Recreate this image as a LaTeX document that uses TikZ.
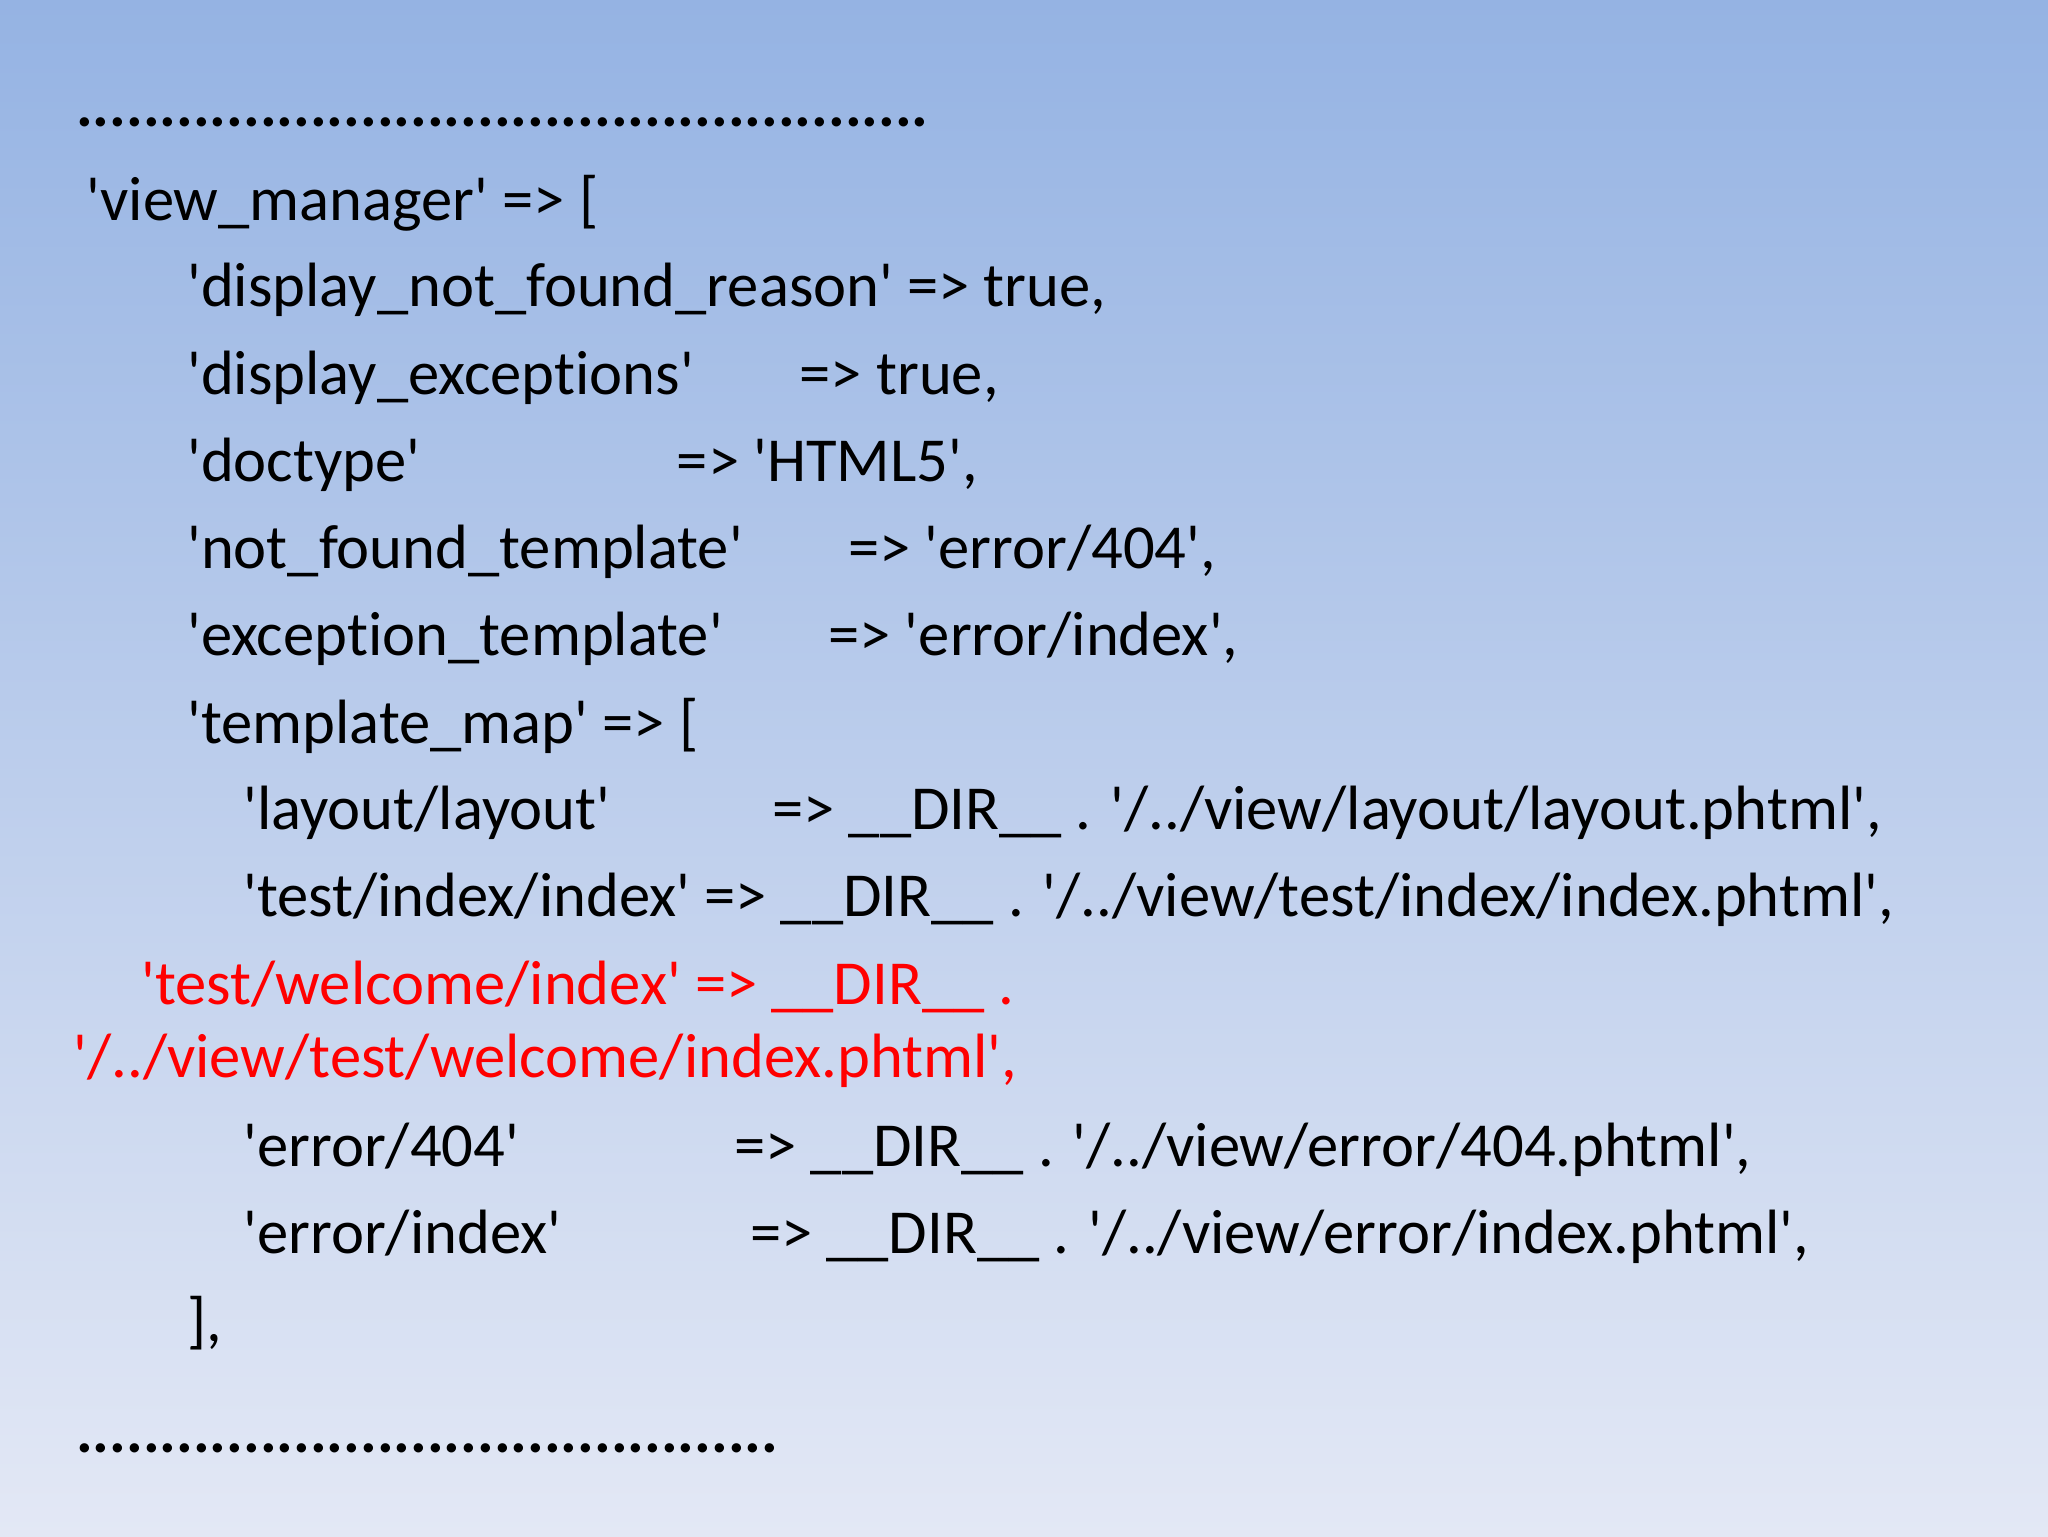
\documentclass[tikz,border=0pt]{standalone}
\usepackage{fontspec}
\setmainfont{Carlito}[Ligatures={TeXOff,CommonOff}]
\definecolor{topc}{HTML}{95B3E3}
\definecolor{botc}{HTML}{E3E8F5}
\begin{document}
\begin{tikzpicture}[x=0.65306pt,y=-0.65306pt,
  t/.style={anchor=base west,inner sep=0pt,font=\fontsize{31.3}{38}\selectfont},
  r/.style={t,text=red}]
\shade[top color=topc,bottom color=botc] (0,0) rectangle (1568,1176);
\useasboundingbox (0,0) rectangle (1568,1176);
\node[t,font=\fontsize{31.3}{38}\selectfont\bfseries] (d1) at (58,97) {...................................................};
\node[t] (l1) at (66,169) {'view\_manager' => [};
\node[t] (l2) at (143,235) {'display\_not\_found\_reason' => true,};
\node[t] (l3a) at (143,302) {'display\_exceptions'};
\node[t] (l3b) at (612,302) {=> true,};
\node[t] (l4a) at (143,369) {'doctype'};
\node[t] (l4b) at (518,369) {=> 'HTML5',};
\node[t] (l5a) at (143,435) {'not\_found\_template'};
\node[t] (l5b) at (649,435) {=> 'error/404',};
\node[t] (l6a) at (143,502) {'exception\_template'};
\node[t] (l6b) at (634,502) {=> 'error/index',};
\node[t] (l7) at (143,569) {'template\_map' => [};
\node[t] (l8a) at (186,635) {'layout/layout'};
\node[t] (l8b) at (591,635) {=> \_\_DIR\_\_ . '/../view/layout/layout.phtml',};
\node[t] (l9) at (186,702) {'test/index/index' => \_\_DIR\_\_ . '/../view/test/index/index.phtml',};
\node[r] (l10) at (108,769) {'test/welcome/index' => \_\_DIR\_\_ .};
\node[r] (l11) at (56,825) {'/../view/test/welcome/index.phtml',};
\node[t] (l12a) at (186,893) {'error/404'};
\node[t] (l12b) at (562,893) {=> \_\_DIR\_\_ . '/../view/error/404.phtml',};
\node[t] (l13a) at (186,960) {'error/index'};
\node[t] (l13b) at (574,960) {=> \_\_DIR\_\_ . '/../view/error/index.phtml',};
\node[t] (l14) at (143,1027) {],};
\node[t,font=\fontsize{31.3}{38}\selectfont\bfseries] (d2) at (58,1112) {..........................................};
\end{tikzpicture}
\end{document}
